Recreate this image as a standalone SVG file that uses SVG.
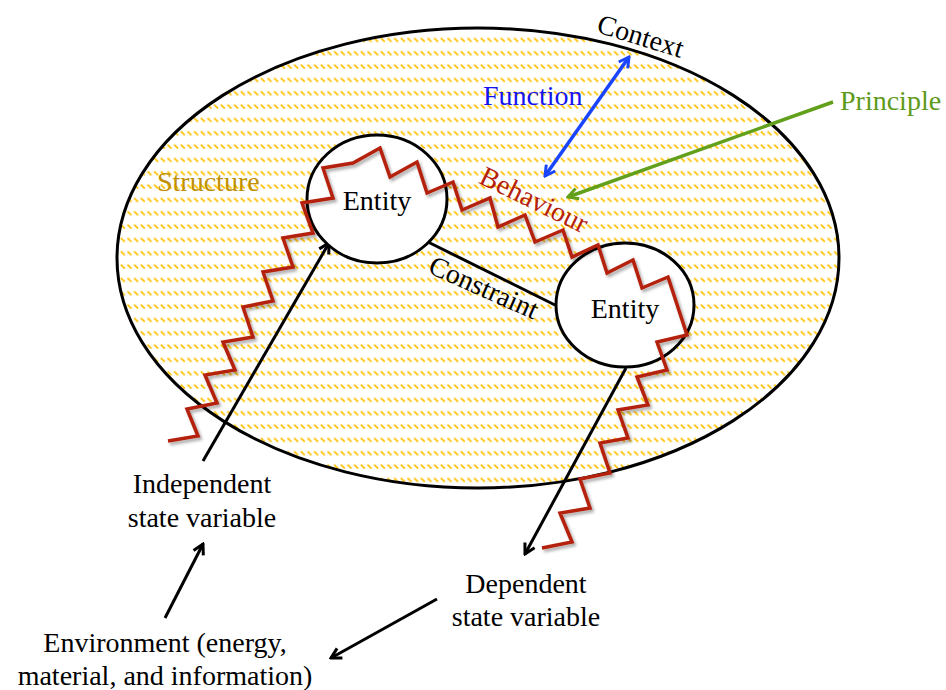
<svg xmlns="http://www.w3.org/2000/svg" width="946" height="690" viewBox="0 0 946 690">
<style>
  text { font-family: "Liberation Serif", "Times New Roman", serif; font-size: 28px; }
  .ent { fill: #fff; stroke: #000; stroke-width: 3; }
  .blk { stroke: #000; stroke-width: 3; fill: none; }
</style>
<defs>
  <pattern id="hatch" patternUnits="userSpaceOnUse" x="0" y="-2.5" width="6.667" height="13.333">
    <line x1="0.8" y1="0.5" x2="4.8" y2="4.5" stroke="#FFC000" stroke-width="1.7"/>
  </pattern>
  <filter id="shadow" x="-10%" y="-10%" width="120%" height="120%">
    <feDropShadow dx="2" dy="2.5" stdDeviation="1.5" flood-color="#000" flood-opacity="0.35"/>
  </filter>
  <marker id="ahB" markerUnits="userSpaceOnUse" viewBox="0 0 14 14" refX="12" refY="7" markerWidth="14" markerHeight="14" orient="auto-start-reverse">
    <path d="M2,1.5 L12,7 L2,12.5" fill="none" stroke="#000" stroke-width="3"/>
  </marker>
  <marker id="ahBlue" markerUnits="userSpaceOnUse" viewBox="0 0 14 14" refX="12" refY="7" markerWidth="14" markerHeight="14" orient="auto-start-reverse">
    <path d="M2,1.5 L12,7 L2,12.5" fill="none" stroke="#1A45FF" stroke-width="3"/>
  </marker>
  <marker id="ahG" markerUnits="userSpaceOnUse" viewBox="0 0 14 14" refX="12" refY="7" markerWidth="14" markerHeight="14" orient="auto-start-reverse">
    <path d="M2,1.5 L12,7 L2,12.5" fill="none" stroke="#62A01C" stroke-width="3"/>
  </marker>
</defs>

<g id="context">
  <ellipse cx="478" cy="258" rx="361" ry="230" fill="#fff"/>
  <ellipse cx="478" cy="258" rx="361" ry="230" fill="url(#hatch)" stroke="#000" stroke-width="3"/>
  <text transform="translate(638,45) rotate(17)" text-anchor="middle" fill="#000">Context</text>
  <text x="157" y="191" fill="#BF9000">Structure</text>
</g>

<g id="connectors">
  <line class="blk" x1="428" y1="242" x2="555" y2="305"/>
  <line x1="545" y1="176" x2="629" y2="57" stroke="#1A45FF" stroke-width="3.5" marker-start="url(#ahBlue)" marker-end="url(#ahBlue)"/>
  <line x1="833" y1="102" x2="568" y2="197" stroke="#62A01C" stroke-width="3.5" marker-end="url(#ahG)"/>
  <line class="blk" x1="203" y1="461" x2="329" y2="243" marker-end="url(#ahB)"/>
  <line class="blk" x1="626" y1="368" x2="525" y2="554" marker-end="url(#ahB)"/>
  <line class="blk" x1="165" y1="618" x2="203" y2="544" marker-end="url(#ahB)"/>
  <line class="blk" x1="437" y1="599" x2="331" y2="658" marker-end="url(#ahB)"/>
</g>

<g id="entity1">
  <ellipse class="ent" cx="377" cy="199" rx="70" ry="64"/>
  <text x="377" y="210" text-anchor="middle">Entity</text>
</g>
<g id="entity2">
  <ellipse class="ent" cx="625" cy="305" rx="69" ry="62"/>
  <text x="625" y="318" text-anchor="middle">Entity</text>
</g>

<g id="behaviour">
  <polyline fill="none" stroke="#B4200C" stroke-width="3.5" stroke-linejoin="miter" filter="url(#shadow)"
    points="168,441 198,436 187,409 217,403 205,375 235,370 223,342 253,337 243,307 273,301 263,272 293,267 283,238 313,233 302,203 333,198 323,168 353,163 380,148 390,177 417,162 427,193 453,182 462,210 490,198 498,227 525,215 535,242 563,230 572,257 598,245 607,273 633,260 642,288 668,277 687,335 657,342 667,370 637,377 648,405 618,410 628,438 600,443 610,473 580,479 590,508 560,513 572,542 542,548"/>
  <text transform="translate(530,208) rotate(26)" text-anchor="middle" fill="#B4200C">Behaviour</text>
</g>

<g id="labels">
  <text transform="translate(480,296) rotate(24)" text-anchor="middle">Constraint</text>
  <text x="483" y="105" fill="#1414F0">Function</text>
  <text x="840" y="110" fill="#5E9A1A">Principle</text>
</g>

<g id="independent">
  <text x="202" y="493" text-anchor="middle">Independent</text>
  <text x="202" y="527" text-anchor="middle">state variable</text>
</g>
<g id="dependent">
  <text x="526" y="593" text-anchor="middle">Dependent</text>
  <text x="526" y="626" text-anchor="middle">state variable</text>
</g>
<g id="environment">
  <text x="165" y="652" text-anchor="middle">Environment (energy,</text>
  <text x="165" y="685" text-anchor="middle">material, and information)</text>
</g>
</svg>
